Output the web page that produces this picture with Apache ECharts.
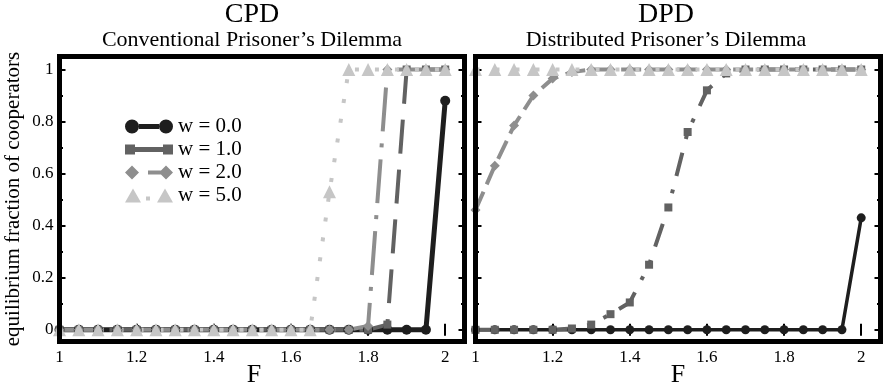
<!DOCTYPE html>
<html>
<head>
<meta charset="utf-8">
<script src="https://cdn.jsdelivr.net/npm/echarts@6/dist/echarts.min.js"></script>
<style>
html,body{margin:0;padding:0;background:#fff;}
#chart{width:883px;height:387px;}
</style>
</head>
<body>
<div id="chart"></div>
<script>
// ---- data ----
const F = [1.00,1.05,1.10,1.15,1.20,1.25,1.30,1.35,1.40,1.45,1.50,1.55,1.60,1.65,1.70,1.75,1.80,1.85,1.90,1.95,2.00];

const cpdW0 = [0,0,0,0,0,0,0,0,0,0,0,0,0,0,0,0,0,0,0,0,0.88];
const cpdW1 = [0,0,0,0,0,0,0,0,0,0,0,0,0,0,0,0,0,0.02,1,1,1];
const cpdW2 = [0,0,0,0,0,0,0,0,0,0,0,0,0,0,0,0,0.015,1,1,1,1];
const cpdW5 = [0,0,0,0,0,0,0,0,0,0,0,0,0,0,0.53,1,1,1,1,1,1];

const dpdW0 = [0,0,0,0,0,0,0,0,0,0,0,0,0,0,0,0,0,0,0,0,0.43];
const dpdW1 = [0,0,0,0,0,0.005,0.02,0.06,0.105,0.25,0.47,0.76,0.92,0.985,1,1,1,1,1,1,1];
const dpdW2 = [0.46,0.63,0.785,0.90,0.965,0.99,1,1,1,1,1,1,1,1,1,1,1,1,1,1,1];
const dpdW5 = [1,1,1,1,1,1,1,1,1,1,1,1,1,1,1,1,1,1,1,1,1];

const seriesNames = ['w = 0.0','w = 1.0','w = 2.0','w = 5.0'];
const xTicks = [1,1.2,1.4,1.6,1.8,2];
const xMinorTicks = [1.1,1.3,1.5,1.7,1.9];
const yTicks = [0,0.2,0.4,0.6,0.8,1];
const yMinorTicks = [0.1,0.3,0.5,0.7,0.9];

const titles = [
  {main:'CPD', sub:'Conventional Prisoner\u2019s Dilemma'},
  {main:'DPD', sub:'Distributed Prisoner\u2019s Dilemma'}
];
const xName = 'F';
const yName = 'equilibrium fraction of cooperators';

// ---- styles ----
const FONT = '"Liberation Serif", "Times New Roman", serif';
const colors = ['#1e1e1e','#626262','#8e8e8e','#c6c6c6'];
const symbols = ['circle','rect','diamond','triangle'];
const icons = [
  'path://M0,7A7,7 0 1 1 14,7A7,7 0 1 1 0,7ZM14,4.5L34,4.5L34,9.5L14,9.5ZM34,7A7,7 0 1 1 48,7A7,7 0 1 1 34,7Z',
  'path://M0,0L10,0L10,10L0,10ZM10,2.5L38,2.5L38,7.5L10,7.5ZM38,0L48,0L48,10L38,10Z',
  'path://M0,7L7,0L14,7L7,14ZM23,5L36,5L34,7L36,9L23,9ZM34,7L41,0L48,7L41,14Z',
  'path://M0,14L8,0L16,14ZM21,8L25,8L25,12L21,12ZM32,14L40,0L48,14Z'
];

const XMIN = 1, XMAX = 2.05, YMIN = -0.045, YMAX = 1.05;
const panels = [
  {left:59.5, top:56.5, width:405, height:285},
  {left:475.5, top:56.5, width:405, height:285}
];

const grids = [];
const xAxes = [];
const yAxes = [];
function tickAxis(kind, gridIndex, position, values, len, labels, extra) {
  const ax = {
    type:'value', gridIndex, position,
    min: kind==='x'?XMIN:YMIN, max: kind==='x'?XMAX:YMAX,
    axisLine:{show:false},
    splitLine:{show:false},
    axisTick:{show:true, inside:true, length:len, customValues:values,
      lineStyle:{color:'#000', width:2}},
    axisLabel:{show:!!labels, customValues:values, fontFamily:FONT, fontSize:17, color:'#000',
      margin: kind==='x'?8:6}
  };
  return Object.assign(ax, extra||{});
}
panels.forEach((p, i) => {
  const g = grids.length;
  grids.push({left:p.left, top:p.top, width:p.width, height:p.height, show:true,
    borderColor:'#000', borderWidth:5, backgroundColor:'transparent', z:5,
    containLabel:false, outerBoundsMode:'none'});
  grids.push({left:p.left, top:p.top, width:p.width, height:p.height, show:false,
    containLabel:false, outerBoundsMode:'none'});
  // main axes
  xAxes.push(tickAxis('x', g, 'bottom', xTicks, 6, true, {
    name:xName, nameLocation:'middle', nameGap:21, nameMoveOverlap:false,
    nameTextStyle:{fontFamily:FONT, fontSize:26, color:'#000', padding:[0, i===0?16:0, 0, 0]}
  }));
  xAxes.push(tickAxis('x', g, 'top', xTicks, 6, false));
  xAxes.push(tickAxis('x', g+1, 'bottom', xMinorTicks, 3.5, false));
  xAxes.push(tickAxis('x', g+1, 'top', xMinorTicks, 3.5, false));
  yAxes.push(tickAxis('y', g, 'left', yTicks, 6, i===0, i===0 ? {
    name:yName, nameLocation:'middle', nameGap:36, nameRotate:90, nameMoveOverlap:false,
    nameTextStyle:{fontFamily:FONT, fontSize:21, color:'#000'}
  } : {}));
  yAxes.push(tickAxis('y', g, 'right', yTicks, 6, false));
  yAxes.push(tickAxis('y', g+1, 'left', yMinorTicks, 3.5, false));
  yAxes.push(tickAxis('y', g+1, 'right', yMinorTicks, 3.5, false));
});

const panelData = [
  {vals:[cpdW0,cpdW1,cpdW2,cpdW5], axis:0,
   width:[5,4,4,4], dash:['solid',[34,16],[44,12,4,12],[4,16]], size:[10,8,10,13]},
  {vals:[dpdW0,dpdW1,dpdW2,dpdW5], axis:4,
   width:[3.5,4,4,4], dash:['solid',[24,14,4,14,4,14],[20,8],[4,16]], size:[9,8,10,13]}
];
const series = [];
panelData.forEach(pd => {
  pd.vals.forEach((arr, k) => {
    series.push({
      type:'line', name:seriesNames[k],
      xAxisIndex:pd.axis, yAxisIndex:pd.axis,
      data: F.map((f, j) => [f, arr[j]]),
      symbol:symbols[k], symbolSize:pd.size[k], showSymbol:true,
      itemStyle:{color:colors[k]},
      lineStyle:{color:colors[k], width:pd.width[k], type:pd.dash[k], cap:'butt'},
      emphasis:{disabled:true},
      animation:false
    });
  });
});

const graphics = [];
titles.forEach((t, i) => {
  const cx = i===0 ? 252 : 666;
  graphics.push({type:'text', x:cx, y:15, style:{text:t.main, font:'28px ' + FONT, fill:'#000',
    align:'center', verticalAlign:'middle', textAlign:'center', textVerticalAlign:'middle'}});
  graphics.push({type:'text', x:cx, y:40, style:{text:t.sub, font:'22px ' + FONT, fill:'#000',
    align:'center', verticalAlign:'middle', textAlign:'center', textVerticalAlign:'middle'}});
});

const chart = echarts.init(document.getElementById('chart'), null, {renderer:'canvas'});
chart.setOption({
  animation:false,
  backgroundColor:'#fff',
  grid:grids,
  xAxis:xAxes,
  yAxis:yAxes,
  legend:{
    orient:'vertical', left:120, top:111,
    itemWidth:48, itemHeight:14, itemGap:2,
    textStyle:{fontFamily:FONT, fontSize:21, color:'#000', lineHeight:20},
    selectedMode:false,
    data: seriesNames.map((n, k) => ({name:n, icon:icons[k], itemStyle:{color:colors[k]}}))
  },
  graphic:graphics,
  series:series
});
</script>
</body>
</html>
